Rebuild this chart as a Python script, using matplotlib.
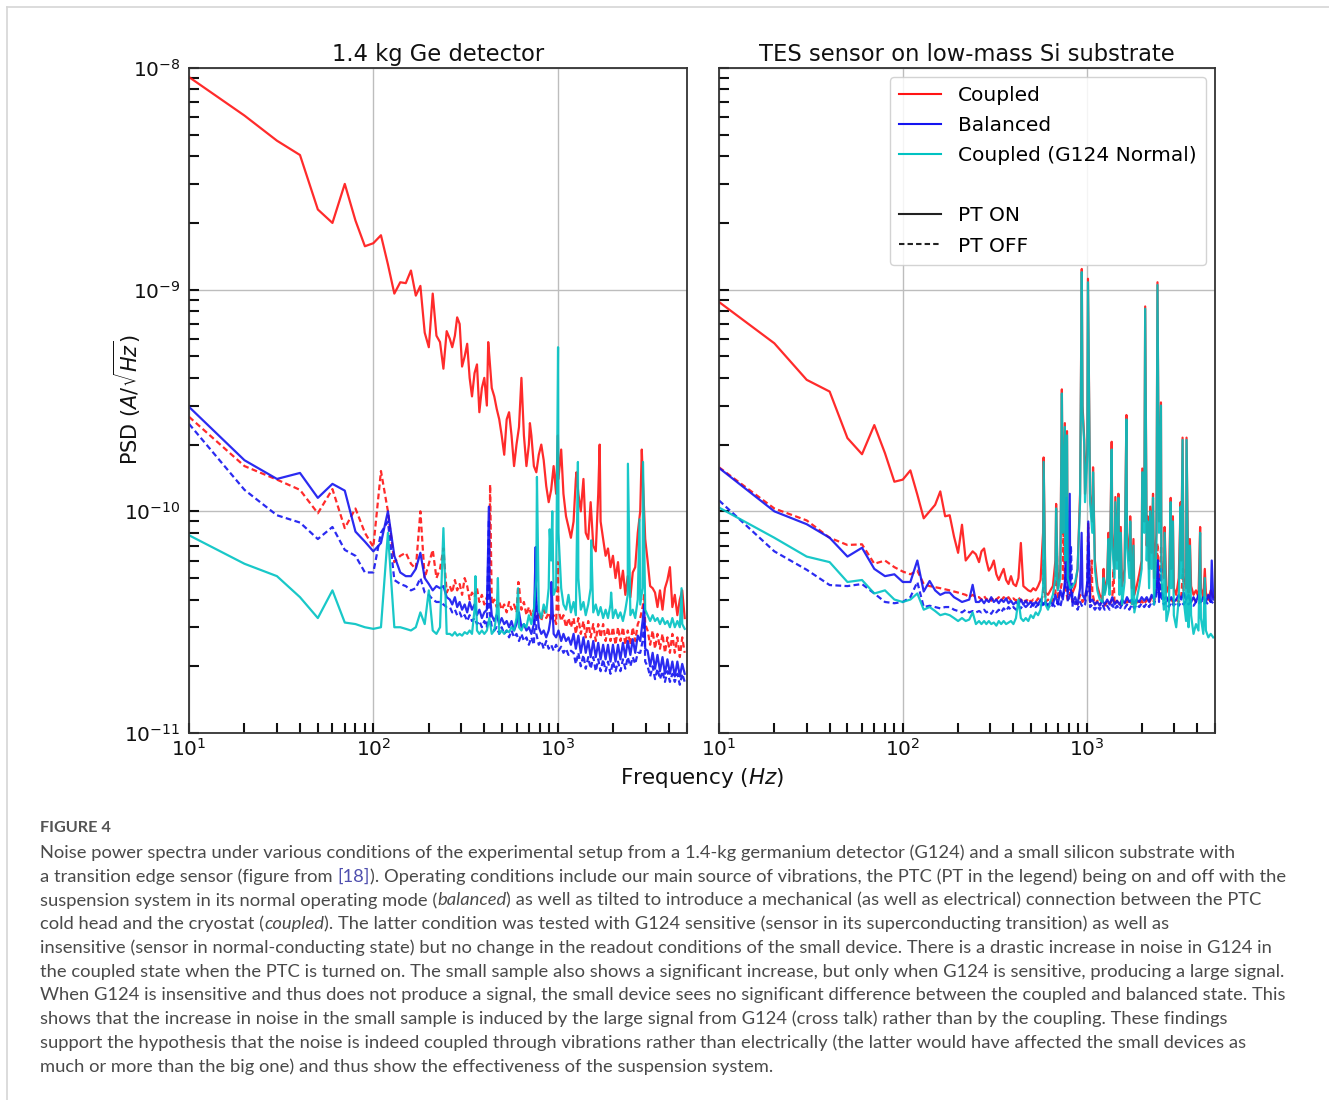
import numpy as np
import matplotlib
matplotlib.use("Agg")
import matplotlib.pyplot as plt
from matplotlib.lines import Line2D
from matplotlib.transforms import IdentityTransform
from matplotlib.ticker import NullFormatter

# ---------------------------------------------------------------- data
UNIT = 1e-11  # values below are in units of 1e-11 A/sqrt(Hz)

HEAD_F = [10, 20, 30, 40, 50, 60, 70, 80, 90, 100, 110, 120, 130, 140, 150,
          160, 170, 180, 190, 200, 210, 220, 230, 240, 250]

TAIL_F = [260, 268, 277, 285, 294, 303, 313, 323, 333, 343,
          354, 365, 376, 388, 400, 413, 426, 439, 453, 467,
          482, 497, 513, 529, 545, 562, 580, 598, 617, 636,
          656, 677, 698, 720, 743, 766, 790, 815, 840, 867,
          894, 922, 951, 981, 1010, 1045, 1075, 1110, 1145, 1180,
          1220, 1255, 1295, 1335, 1380, 1420, 1465, 1510, 1560, 1610,
          1660, 1710, 1765, 1820, 1875, 1935, 1995, 2060, 2125, 2190,
          2260, 2330, 2400, 2480, 2555, 2635, 2720, 2805, 2890, 2985,
          3075, 3175, 3275, 3375, 3480, 3590, 3705, 3820, 3940, 4065,
          4190, 4320, 4460, 4600, 4740, 4890]

# ---- left panel: 1.4 kg Ge detector
L_RED_ON_HEAD = [910, 610, 470, 405, 230, 200, 300, 205, 157, 162, 176, 130, 96,
                 108, 107, 122, 94, 104, 64, 55, 96, 62, 58, 44, 65]
L_RED_ON_TAIL = [60, 55, 62, 75, 70, 45, 50, 57, 40, 33,
                 42, 46, 28, 36, 40, 30, 50, 36, 33, 29,
                 26, 22, 18, 26, 28, 22, 16, 20, 24, 40,
                 22, 16, 20, 22, 16, 15, 18, 20, 17, 13,
                 11, 12.5, 16, 12, 14, 19, 12, 9.5, 8.5, 7.6,
                 9, 14, 12, 10, 14, 8, 7.5, 11, 7, 6.6,
                 12, 9, 7.5, 6.3, 6.8, 5.6, 6.3, 5.0, 5.9, 4.5,
                 5.4, 4.2, 5.1, 4.1, 5.3, 5.6, 8, 10, 15, 7.5,
                 6, 4.6, 4.5, 4.3, 3.7, 4.4, 3.6, 4.5, 4.9, 5.6,
                 3.7, 4.2, 3.4, 4.0, 4.4, 3.3]
L_RED_ON_PK_F = [420, 707, 1003, 1265, 1690, 2860]
L_RED_ON_PK_V = [58, 25, 22, 15, 20, 19]

L_RED_OFF_HEAD = [26.7, 16, 13.9, 12.5, 9.8, 12.6, 8.4, 10.3, 8.0, 6.9, 15.2, 10,
                  5.9, 6.3, 6.5, 5.8, 5.5, 10, 5.0, 5.8, 6.7, 5.0, 5.5, 6.8, 4.3]
L_RED_OFF_TAIL = [4.6, 4.3, 4.9, 4.4, 4.7, 4.2, 5.0, 4.6, 4.0, 4.3,
                  4.1, 4.5, 3.9, 4.2, 3.8, 4.1, 4.4, 3.8, 4.0, 3.7,
                  3.9, 3.6, 3.8, 3.5, 3.9, 3.6, 3.8, 3.5, 4.6, 3.6,
                  3.9, 3.4, 3.7, 3.4, 3.6, 3.3, 3.5, 3.2, 3.6, 3.3,
                  3.5, 3.2, 3.4, 3.1, 3.6, 3.2, 3.4, 3.0, 3.3, 3.0,
                  3.3, 2.8, 3.3, 2.8, 3.2, 2.7, 3.2, 2.7, 3.1, 2.6,
                  3.1, 2.7, 3.1, 2.6, 3.0, 2.6, 3.0, 2.5, 3.0, 2.6,
                  3.0, 2.5, 2.9, 2.5, 3.0, 2.6, 3.1, 3.3, 3.7, 3.1,
                  2.9, 2.5, 2.9, 2.4, 2.8, 2.4, 2.8, 2.3, 2.7, 2.3,
                  2.8, 2.3, 2.7, 2.2, 2.7, 2.3]
L_RED_OFF_PK_F = [430, 612, 1002, 2950]
L_RED_OFF_PK_V = [13.2, 4.8, 5.9, 4.2]

L_BLUE_ON_HEAD = [29.6, 17, 14, 14.9, 11.5, 13.3, 12.4, 8.1, 7.3, 6.6, 7.2, 10,
                  6.3, 5.3, 5.1, 5.1, 5.5, 6.5, 5.0, 4.7, 4.4, 4.6, 4.5, 4.6, 4.1]
L_BLUE_ON_TAIL = [4.0, 3.8, 4.1, 3.7, 3.9, 3.6, 3.8, 3.5, 3.9, 3.6,
                  3.8, 3.4, 3.6, 3.3, 3.5, 3.6, 4.5, 3.4, 3.2, 3.4,
                  3.1, 3.3, 3.1, 3.2, 3.0, 3.2, 2.9, 3.1, 3.5, 3.0,
                  3.1, 2.9, 3.0, 2.8, 3.1, 4.0, 3.0, 2.8, 2.9, 2.7,
                  2.9, 3.4, 2.8, 2.7, 2.9, 2.6, 2.8, 2.6, 2.7, 2.5,
                  2.8, 2.4, 2.75, 2.3, 2.7, 2.3, 2.6, 2.2, 2.6, 2.2,
                  2.55, 2.15, 2.5, 2.15, 2.5, 2.1, 2.5, 2.1, 2.5, 2.15,
                  2.55, 2.2, 2.6, 2.25, 2.65, 2.3, 2.75, 2.6, 3.2, 2.4,
                  2.35, 2.0, 2.3, 1.95, 2.25, 1.9, 2.2, 1.85, 2.15, 1.85,
                  2.1, 1.8, 2.1, 1.8, 2.05, 1.85]
L_BLUE_ON_PK_F = [424, 760, 925, 2950]
L_BLUE_ON_PK_V = [10.5, 6.9, 4.8, 3.8]

L_BLUE_OFF_HEAD = [24.8, 12.5, 9.6, 8.9, 7.5, 8.5, 6.7, 6.3, 5.3, 5.3, 8.0, 9.0,
                   4.9, 4.7, 4.6, 4.4, 4.5, 5.0, 4.3, 4.2, 4.0, 3.9, 3.9, 3.8, 3.7]
L_BLUE_OFF_TAIL = [3.7, 3.5, 3.6, 3.4, 3.5, 3.3, 3.4, 3.2, 3.4, 3.2,
                   3.3, 3.1, 3.2, 3.0, 3.2, 3.0, 3.6, 3.0, 2.9, 3.0,
                   2.8, 3.0, 2.8, 2.9, 2.7, 2.9, 2.7, 2.8, 2.6, 2.8,
                   2.6, 2.7, 2.5, 2.7, 2.5, 2.8, 2.5, 2.6, 2.4, 2.6,
                   2.4, 2.5, 2.35, 2.5, 2.35, 2.45, 2.3, 2.4, 2.25, 2.35,
                   2.3, 2.05, 2.3, 2.0, 2.25, 1.95, 2.2, 1.95, 2.2, 1.9,
                   2.15, 1.9, 2.15, 1.9, 2.1, 1.85, 2.1, 1.9, 2.1, 1.9,
                   2.15, 1.95, 2.2, 2.0, 2.2, 2.05, 2.3, 2.3, 2.6, 2.1,
                   2.0, 1.8, 2.0, 1.75, 1.95, 1.75, 1.9, 1.7, 1.9, 1.7,
                   1.85, 1.7, 1.85, 1.65, 1.85, 1.7]
L_BLUE_OFF_PK_F = [424, 762, 2950]
L_BLUE_OFF_PK_V = [9.2, 4.5, 3.2]

L_CYAN_HEAD = [7.8, 5.8, 5.1, 4.1, 3.3, 4.4, 3.15, 3.1, 3.0, 2.95, 3.0, 8.0,
               3.0, 3.0, 2.95, 2.9, 3.0, 3.5, 3.1, 4.4, 2.9, 2.8, 3.0, 8.4, 2.8]
L_CYAN_TAIL = [2.8, 2.75, 2.85, 2.75, 2.8, 2.75, 2.85, 2.8, 2.9, 2.8,
               3.6, 2.9, 2.8, 2.9, 2.8, 2.9, 3.3, 2.8, 2.9, 3.5,
               2.8, 2.9, 2.8, 2.9, 2.85, 3.0, 2.9, 3.3, 3.0, 2.9,
               3.1, 3.0, 3.4, 3.1, 3.6, 5.0, 3.6, 3.3, 3.8, 3.5,
               4.5, 6.0, 4.2, 4.5, 8.0, 4.5, 3.8, 3.6, 4.2, 3.5,
               3.9, 3.4, 5.0, 3.6, 3.9, 3.4, 3.8, 4.5, 3.5, 3.8,
               3.4, 3.7, 3.3, 3.6, 3.3, 3.8, 3.3, 3.6, 3.3, 3.5,
               3.2, 3.6, 4.2, 3.4, 3.6, 3.3, 4.0, 3.8, 4.5, 3.6,
               3.4, 3.2, 3.4, 3.2, 3.3, 3.1, 3.3, 3.1, 3.2, 3.0,
               3.3, 3.0, 3.2, 3.0, 3.1, 2.95]
L_CYAN_PK_F = [358, 474, 610, 772, 905, 935, 1005, 1288, 1520, 1950, 2405,
               2780, 2905, 4700]
L_CYAN_PK_V = [5.1, 5.0, 4.5, 14.3, 8.3, 10, 55, 16.7, 7.4, 4.3, 16.4,
               9.2, 16.7, 4.5]

# ---- right panel: TES sensor on low-mass Si substrate
R_RED_ON_HEAD = [88, 57.3, 39.2, 34.7, 21.4, 18.1, 24.5, 18.3, 13.6, 13.9, 15.3,
                 11.9, 9.3, 10.0, 10.7, 12.3, 9.5, 9.6, 7.7, 6.5, 8.7, 6.0, 6.3,
                 6.6, 6.4]
R_RED_ON_TAIL = [5.9, 6.6, 6.8, 6.0, 5.4, 5.6, 6.0, 5.2, 4.9, 5.2,
                 5.5, 4.9, 4.7, 5.1, 4.7, 4.6, 5.0, 7.2, 4.6, 4.5,
                 4.4, 4.35, 4.5, 4.4, 4.6, 4.9, 8, 4.3, 4.2, 4.4,
                 4.6, 6, 4.5, 5.5, 8, 6, 5, 4.5, 4.3, 4.6,
                 5.5, 12, 30, 12, 20, 12, 9, 6, 4.6, 4.2,
                 4.0, 4.3, 5.0, 4.5, 8, 5.5, 6, 5, 4.6, 5.5,
                 8, 6, 4.5, 4.2, 4.6, 5.2, 6, 9, 7, 5.5,
                 6.5, 5, 8, 9, 6, 5, 4.3, 4.6, 5.5, 4.5,
                 4.2, 5, 6, 5, 4.5, 4.3, 4.6, 4.2, 4.4, 4.1,
                 4.5, 4.1, 4.3, 4.0, 4.4, 4.1]
R_RED_ON_PK_F = [584, 683, 734, 762, 783, 942, 972, 1018, 1085, 1238, 1315,
                 1370, 1435, 1490, 1535, 1648, 1728, 1800, 2010, 2085, 2150,
                 2220, 2300, 2432, 2540, 2660, 2870, 2950, 3250, 3330, 3500,
                 3650, 4150, 4400]
R_RED_ON_PK_V = [17.5, 10.8, 35.5, 25, 23, 124, 21, 112, 15.8, 5.5, 8,
                 20.6, 11.6, 12, 8.5, 27.2, 9.5, 7.5, 15.6, 84, 9.5,
                 10.5, 12, 108, 31, 8.5, 11.5, 9.5, 11, 21.5, 21.5,
                 7.5, 8.5, 5.5]

R_RED_OFF_HEAD = [15.8, 10.3, 9.1, 7.6, 7.05, 7.1, 5.8, 6.0, 5.6, 5.35, 5.2, 5.4,
                  4.7, 4.6, 4.55, 4.5, 4.45, 4.4, 4.35, 4.3, 4.25, 4.2, 4.1, 4.2,
                  4.1]
R_RED_OFF_TAIL = [4.1, 4.0, 4.15, 4.0, 4.1, 3.95, 4.1, 4.0, 4.1, 3.95,
                  4.1, 4.0, 4.1, 3.95, 4.05, 3.95, 4.1, 3.95, 4.05, 3.9,
                  4.05, 3.9, 4.0, 3.9, 4.05, 3.9, 4.2, 3.9, 4.0, 3.85,
                  4.0, 4.3, 4.0, 4.4, 5.0, 4.5, 4.0, 4.3, 3.9, 4.0,
                  3.8, 4.2, 3.9, 4.1, 4.6, 3.9, 4.3, 3.8, 3.95, 3.8,
                  3.95, 3.75, 3.9, 3.8, 4.0, 3.8, 3.95, 3.75, 3.9, 3.8,
                  3.95, 3.8, 3.9, 3.75, 3.95, 3.8, 3.95, 3.8, 4.0, 3.85,
                  4.1, 3.9, 4.5, 4.2, 4.4, 4.0, 4.1, 3.9, 4.0, 3.85,
                  4.0, 3.9, 4.1, 4.3, 4.0, 4.1, 3.9, 4.05, 3.9, 4.05,
                  3.9, 4.1, 3.9, 4.05, 3.9, 4.0]
R_RED_OFF_PK_F = [582, 690, 748, 1020, 1068, 1400, 2428, 2545, 3350]
R_RED_OFF_PK_V = [6, 6.5, 8, 8.8, 6, 5.5, 7.2, 7, 5.5]

R_BLUE_ON_HEAD = [15.7, 10.0, 8.75, 7.6, 6.25, 6.85, 5.5, 5.1, 5.2, 4.8, 4.8, 6.0,
                  4.35, 4.85, 4.4, 4.2, 4.3, 4.3, 4.1, 4.0, 3.9, 3.95, 4.0, 4.66,
                  3.9]
R_BLUE_ON_TAIL = [3.9, 4.0, 3.85, 4.0, 3.9, 4.1, 3.9, 4.0, 3.85, 4.0,
                  3.9, 4.05, 3.85, 3.95, 3.8, 3.9, 3.8, 4.0, 3.8, 3.95,
                  3.8, 3.9, 3.75, 3.9, 3.8, 4.0, 3.8, 3.9, 3.75, 3.9,
                  3.8, 4.2, 3.8, 4.4, 4.0, 5.0, 4.2, 4.6, 3.9, 4.1,
                  3.8, 4.5, 4.2, 4.0, 4.8, 3.9, 4.0, 3.8, 3.9, 3.75,
                  3.95, 3.8, 4.0, 3.8, 4.1, 3.8, 3.95, 3.8, 4.0, 3.85,
                  4.1, 3.9, 4.0, 3.85, 4.0, 3.9, 4.1, 3.95, 4.1, 3.9,
                  4.2, 4.0, 4.4, 4.1, 4.3, 4.0, 4.1, 3.9, 4.1, 3.9,
                  4.0, 4.2, 4.0, 4.3, 4.0, 4.2, 3.9, 4.1, 3.9, 4.2,
                  3.9, 4.1, 3.9, 4.2, 3.9, 4.0]
R_BLUE_ON_PK_F = [778, 810, 940, 1022, 2430, 4800]
R_BLUE_ON_PK_V = [11.5, 12, 8, 9, 6, 6]

R_BLUE_OFF_HEAD = [11.2, 6.6, 5.45, 4.65, 4.6, 4.7, 4.26, 3.9, 3.85, 3.9, 4.1, 4.8,
                   3.7, 3.75, 3.7, 3.65, 3.7, 3.7, 3.6, 3.55, 3.5, 3.6, 3.5, 3.55,
                   3.5]
R_BLUE_OFF_TAIL = [3.55, 3.5, 3.6, 3.5, 3.55, 3.45, 3.6, 3.5, 3.6, 3.5,
                   3.65, 3.55, 3.7, 3.6, 3.7, 3.6, 3.75, 3.65, 3.8, 3.7,
                   3.8, 3.7, 3.85, 3.7, 3.8, 3.7, 3.85, 3.7, 3.8, 3.65,
                   3.8, 3.7, 3.9, 3.7, 4.2, 4.5, 3.9, 4.2, 3.7, 3.9,
                   3.6, 3.9, 3.7, 3.8, 4.4, 3.7, 3.8, 3.6, 3.75, 3.6,
                   3.8, 3.6, 3.75, 3.6, 3.8, 3.6, 3.75, 3.6, 3.8, 3.65,
                   3.8, 3.6, 3.8, 3.65, 3.8, 3.7, 3.85, 3.7, 3.85, 3.7,
                   3.9, 3.8, 4.2, 3.9, 4.1, 3.8, 3.9, 3.7, 3.9, 3.75,
                   3.9, 3.75, 3.9, 3.8, 3.95, 3.8, 3.9, 3.75, 3.9, 3.8,
                   3.95, 3.8, 3.9, 3.8, 3.95, 3.85]
R_BLUE_OFF_PK_F = [780, 822, 1021, 2450, 2545]
R_BLUE_OFF_PK_V = [8, 7, 7, 6, 5.5]

R_CYAN_HEAD = [10.4, 7.6, 6.25, 5.9, 4.8, 4.9, 4.26, 4.4, 4.0, 3.9, 4.0, 4.26,
               3.6, 3.7, 3.55, 3.4, 3.45, 3.4, 3.3, 3.2, 3.3, 3.2, 3.25, 3.5, 3.1]
R_CYAN_TAIL = [3.2, 3.1, 3.2, 3.1, 3.2, 3.1, 3.15, 3.05, 3.2, 3.1,
               3.2, 3.1, 3.15, 3.2, 3.1, 3.3, 4.0, 3.3, 3.2, 3.3,
               3.2, 3.4, 3.3, 3.5, 3.4, 3.6, 4.5, 3.8, 3.6, 3.9,
               4.2, 5, 4.4, 5, 8, 6, 5, 4.5, 4.6, 4.8,
               5.5, 11, 28, 11, 18, 11, 8, 5.5, 4.4, 4.0,
               3.9, 4.2, 4.8, 4.2, 7, 5, 5.5, 4.2, 3.8, 4.8,
               7, 5, 3.8, 3.5, 4.0, 4.6, 5.5, 8, 6, 4.5,
               5.5, 3.8, 7, 8, 5, 3.6, 3.2, 3.6, 4.5, 3.4,
               3.0, 4.0, 5, 4, 3.2, 3.0, 3.4, 2.8, 3.1, 2.9,
               3.3, 2.8, 2.9, 2.7, 2.8, 2.7]
R_CYAN_PK_F = [584, 683, 734, 762, 783, 942, 972, 1018, 1085, 1238, 1315,
               1370, 1435, 1490, 1535, 1648, 1728, 1800, 2010, 2085, 2150,
               2220, 2300, 2432, 2540, 2660, 2870, 2950, 3250, 3330, 3500,
               3650, 4150, 4400]
R_CYAN_PK_V = [16.7, 10.3, 34, 24, 22, 120, 20, 108, 15, 5, 7.5,
               19, 11, 11.5, 8, 26, 9, 7, 15, 82, 9,
               10, 11.5, 105, 30, 8, 11, 9, 10.5, 21, 21,
               7, 8, 5]

TITLES = ["1.4 kg Ge detector", "TES sensor on low-mass Si substrate"]
LEGEND_LABELS = ["Coupled", "Balanced", "Coupled (G124 Normal)", " ", "PT ON", "PT OFF"]

CAPTION_HEAD = "FIGURE 4"
CAPTION_LINES = [
    [("Noise power spectra under various conditions of the experimental setup from a 1.4-kg germanium detector (G124) and a small silicon substrate with", "n")],
    [("a transition edge sensor (figure from ", "n"), ("[18]", "link"),
     ("). Operating conditions include our main source of vibrations, the PTC (PT in the legend) being on and off with the", "n")],
    [("suspension system in its normal operating mode (", "n"), ("balanced", "i"),
     (") as well as tilted to introduce a mechanical (as well as electrical) connection between the PTC", "n")],
    [("cold head and the cryostat (", "n"), ("coupled", "i"),
     ("). The latter condition was tested with G124 sensitive (sensor in its superconducting transition) as well as", "n")],
    [("insensitive (sensor in normal-conducting state) but no change in the readout conditions of the small device. There is a drastic increase in noise in G124 in", "n")],
    [("the coupled state when the PTC is turned on. The small sample also shows a significant increase, but only when G124 is sensitive, producing a large signal.", "n")],
    [("When G124 is insensitive and thus does not produce a signal, the small device sees no significant difference between the coupled and balanced state. This", "n")],
    [("shows that the increase in noise in the small sample is induced by the large signal from G124 (cross talk) rather than by the coupling. These findings", "n")],
    [("support the hypothesis that the noise is indeed coupled through vibrations rather than electrically (the latter would have affected the small devices as", "n")],
    [("much or more than the big one) and thus show the effectiveness of the suspension system.", "n")],
]

# ---------------------------------------------------------------- helpers
RED, BLUE, CYAN = "#ff1414", "#1414f0", "#00c2c2"
DASH = (0, (2.6, 1.5))
W, H = 1329, 1100


def build(head, tail, pk_f, pk_v):
    assert len(head) == len(HEAD_F) and len(tail) == len(TAIL_F) and len(pk_f) == len(pk_v)
    f = np.array(HEAD_F + TAIL_F + pk_f, dtype=float)
    v = np.array(head + tail + pk_v, dtype=float) * UNIT
    idx = np.argsort(f, kind="stable")
    return f[idx], v[idx]


fig = plt.figure(figsize=(W / 100, H / 100), dpi=100)
fig.patch.set_facecolor("white")

ax_bottom = 1 - 733 / H
ax_height = 665 / H
axL = fig.add_axes([189 / W, ax_bottom, 497.5 / W, ax_height])
axR = fig.add_axes([719 / W, ax_bottom, 496 / W, ax_height])

panels = [
    (axL, [(L_RED_ON_HEAD, L_RED_ON_TAIL, L_RED_ON_PK_F, L_RED_ON_PK_V, RED, "-"),
           (L_RED_OFF_HEAD, L_RED_OFF_TAIL, L_RED_OFF_PK_F, L_RED_OFF_PK_V, RED, DASH),
           (L_BLUE_ON_HEAD, L_BLUE_ON_TAIL, L_BLUE_ON_PK_F, L_BLUE_ON_PK_V, BLUE, "-"),
           (L_BLUE_OFF_HEAD, L_BLUE_OFF_TAIL, L_BLUE_OFF_PK_F, L_BLUE_OFF_PK_V, BLUE, DASH),
           (L_CYAN_HEAD, L_CYAN_TAIL, L_CYAN_PK_F, L_CYAN_PK_V, CYAN, "-")]),
    (axR, [(R_RED_ON_HEAD, R_RED_ON_TAIL, R_RED_ON_PK_F, R_RED_ON_PK_V, RED, "-"),
           (R_RED_OFF_HEAD, R_RED_OFF_TAIL, R_RED_OFF_PK_F, R_RED_OFF_PK_V, RED, DASH),
           (R_BLUE_ON_HEAD, R_BLUE_ON_TAIL, R_BLUE_ON_PK_F, R_BLUE_ON_PK_V, BLUE, "-"),
           (R_BLUE_OFF_HEAD, R_BLUE_OFF_TAIL, R_BLUE_OFF_PK_F, R_BLUE_OFF_PK_V, BLUE, DASH),
           (R_CYAN_HEAD, R_CYAN_TAIL, R_CYAN_PK_F, R_CYAN_PK_V, CYAN, "-")]),
]

for (ax, series), title in zip(panels, TITLES):
    for head, tail, pf, pv, col, ls in series:
        f, v = build(head, tail, pf, pv)
        ax.plot(f, v, color=col, ls=ls, lw=1.6, alpha=0.9)
    ax.set_xscale("log")
    ax.set_yscale("log")
    ax.set_xlim(10, 5000)
    ax.set_ylim(1e-11, 1e-8)
    ax.grid(True, which="major", color="#bdbdbd", lw=1.0)
    ax.tick_params(which="both", direction="in", length=7.5, width=1.5,
                   top=False, right=False, colors="#111111", labelsize=14.5,
                   labelcolor="#111111")
    ax.xaxis.set_minor_formatter(NullFormatter())
    ax.yaxis.set_minor_formatter(NullFormatter())
    for sp in ax.spines.values():
        sp.set_color("#333333")
        sp.set_linewidth(1.3)
    ax.set_title(title, fontsize=16.3, pad=5, color="#111111")

axR.tick_params(labelleft=False)
axL.tick_params(axis="y", pad=6)

handles = [Line2D([], [], color=RED, lw=1.5),
           Line2D([], [], color=BLUE, lw=1.5),
           Line2D([], [], color=CYAN, lw=1.5),
           Line2D([], [], color="none", lw=1.5),
           Line2D([], [], color="#222222", lw=1.5),
           Line2D([], [], color="#222222", lw=1.5, ls=DASH)]
axR.legend(handles, LEGEND_LABELS, loc="upper right", fontsize=14.5,
           handlelength=2.1, handletextpad=0.85, labelspacing=0.55,
           borderpad=0.45, borderaxespad=0.45, framealpha=0.85,
           edgecolor="#cccccc", fancybox=True)

fig.text(127 / W, 1 - 400 / H, r"PSD $(A/\sqrt{Hz})$", rotation=90,
         ha="center", va="center", fontsize=15, color="#111111")
fig.text(702 / W, 1 - 778 / H, r"Frequency $(Hz)$", ha="center", va="center",
         fontsize=15.5, color="#111111")

# thin card border
fig.add_artist(Line2D([7 / W, 7 / W], [0, 1 - 7 / H], transform=fig.transFigure,
                      color="#d6d6d6", lw=1.2))
fig.add_artist(Line2D([7 / W, 1], [1 - 7 / H, 1 - 7 / H], transform=fig.transFigure,
                      color="#d6d6d6", lw=1.2))

# ---------------------------------------------------------------- caption
CAP_FONT = ["Lato", "DejaVu Sans"]
renderer = fig.canvas.get_renderer()
ident = IdentityTransform()


def text_width(s, size, style="normal"):
    t = fig.text(0, 0, s, transform=ident, fontsize=size, family=CAP_FONT, style=style)
    w = t.get_window_extent(renderer).width
    t.remove()
    return w


def line_width(segs, size):
    return sum(text_width(s, size, "italic" if st == "i" else "normal") for s, st in segs)


ref = line_width(CAPTION_LINES[1], 10.0)
cap_size = 10.0 * 1250.0 / ref
space_w = text_width("a a", cap_size) - text_width("aa", cap_size)


def draw_rich(segs, x, ypx, size):
    for s, st in segs:
        lead = len(s) - len(s.lstrip(" "))
        trail = len(s) - len(s.rstrip(" "))
        core = s.strip(" ")
        x += lead * space_w
        kw = dict(fontsize=size, family=CAP_FONT, color="#4a4a4a")
        if st == "i":
            kw["style"] = "italic"
        if st == "link":
            kw["color"] = "#4f4fae"
        t = fig.text(x, H - ypx, core, transform=ident, ha="left", va="center", **kw)
        x += t.get_window_extent(renderer).width + trail * space_w


fig.text(40, H - 828, CAPTION_HEAD, transform=ident, ha="left", va="center",
         fontsize=cap_size * 0.88, family=CAP_FONT, color="#555555", fontweight="bold")
y0, dy = 853, 23.7
for i, segs in enumerate(CAPTION_LINES):
    draw_rich(segs, 40, y0 + i * dy, cap_size)

fig.savefig("out.png", dpi=100)
